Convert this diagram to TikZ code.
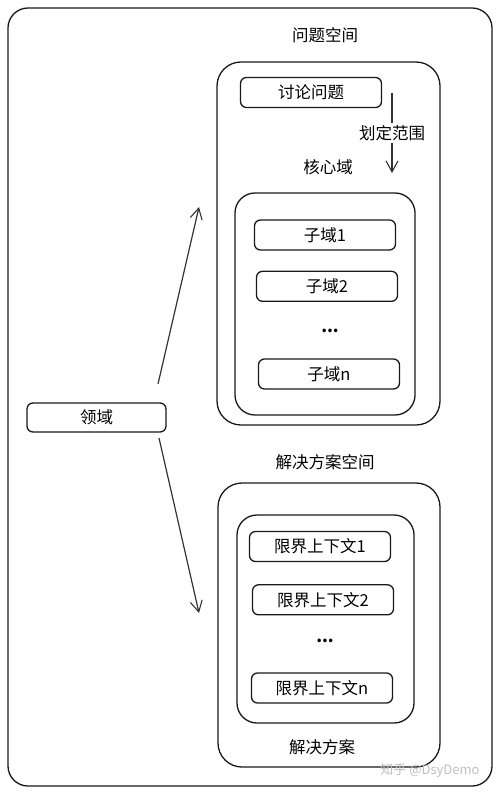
\documentclass[tikz,border=0pt]{standalone}
\usepackage{fontspec}
\setmainfont{Noto Sans CJK SC}
\usetikzlibrary{arrows.meta,positioning}

\tikzstyle{space} = [draw=black!90, line width=1.3pt, rounded corners=24pt, inner sep=0pt]
\tikzstyle{item} = [draw=black!90, line width=1.3pt, rounded corners=6pt,
    minimum width=141pt, minimum height=30pt, inner sep=0pt]
\tikzstyle{caption} = [inner sep=1pt]
\tikzstyle{link} = [->, line width=1.2pt, draw=black!80]

\begin{document}
\begin{tikzpicture}[x=1pt, y=-1pt, font=\fontsize{16.5}{19}\selectfont,
    >={Straight Barb[length=11pt, width=12pt, line width=1.1pt]}]
  \useasboundingbox (0,0) rectangle (500,794);

  \node (outer) [space, rounded corners=20pt, minimum width=484pt, minimum height=778pt] at (250,397) {};

  % problem space
  \node (probtitle) [caption] at (325,35) {问题空间};
  \node (prob) [space, minimum width=223pt, minimum height=363pt] at (328.5,243.5) {};
  \node (discuss) [item] at (311,92.5) {讨论问题};
  \node (coretitle) [caption] at (328,167) {核心域};
  \node (core) [space, rounded corners=20pt, minimum width=180pt, minimum height=222pt] at (325,304) {};
  \node (sub1) [item] at (325,235) {子域1};
  \node (sub2) [item, below=20pt of sub1.south, anchor=north, xshift=2pt] {子域2};
  \node (subdots) [caption] at (330,331) {\textbf{...}};
  \node (subn) [item] at (329,374) {子域n};

  % solution space
  \node (soltitle) [caption] at (325,462) {解决方案空间};
  \node (sol) [space, minimum width=222pt, minimum height=284pt] at (329,625) {};
  \node (solin) [space, rounded corners=20pt, minimum width=177pt, minimum height=208pt] at (325.5,619) {};
  \node (ctx1) [item] at (320,546.5) {限界上下文1};
  \node (ctx2) [item, below=22pt of ctx1.south, anchor=north, xshift=3pt] {限界上下文2};
  \node (ctxdots) [caption] at (325,641) {\textbf{...}};
  \node (ctxn) [item] at (322,688) {限界上下文n};
  \node (soltext) [caption] at (322,747) {解决方案};

  % domain
  \node (domain) [item, minimum width=139pt, minimum height=29pt] at (96.5,417.5) {领域};

  \coordinate (cut-top) at (392,93);
  \coordinate (cut-bot) at (392,173);
  \coordinate (up-start) at (158,384);
  \coordinate (up-end) at (199,207);
  \coordinate (down-start) at (159,438);
  \coordinate (down-end) at (199,613);

  \draw [link] (cut-top) -- node [fill=white, inner sep=2pt] {划定范围} (cut-bot);
  \draw [link] (up-start) -- (up-end);
  \draw [link] (down-start) -- (down-end);

  \node (mark) [caption, text=black!25, font=\fontsize{13}{15}\selectfont] at (430,771) {知乎 @DsyDemo};
\end{tikzpicture}
\end{document}
